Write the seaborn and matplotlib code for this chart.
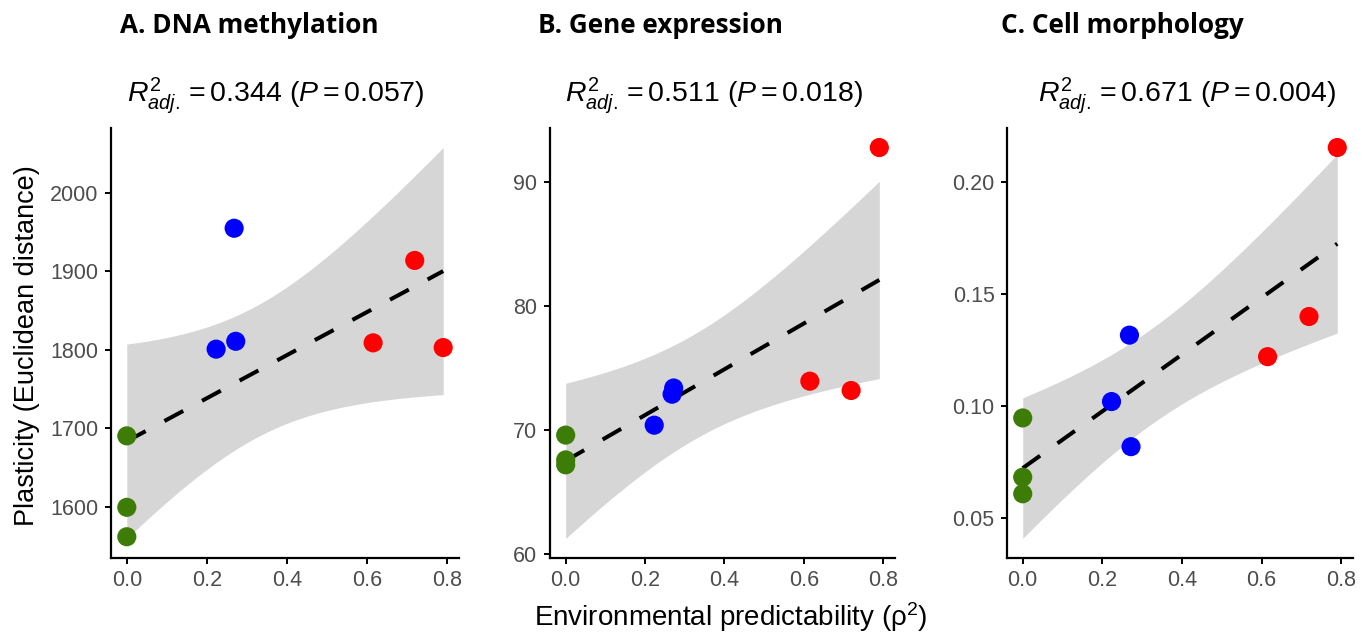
import numpy as np
import pandas as pd
import matplotlib
matplotlib.use("Agg")
import matplotlib.pyplot as plt
import seaborn as sns

# environmental predictability (rho^2) per population, same for all panels
x_vals = [0.0, 0.0, 0.0, 0.223, 0.268, 0.272, 0.615, 0.719, 0.790]
groups = ["green", "green", "green", "blue", "blue", "blue", "red", "red", "red"]

# plasticity per panel
methylation = [1690.5, 1599.5, 1562.0, 1801.0, 1955.0, 1811.0, 1809.0, 1914.0, 1803.0]
expression = [69.6, 67.6, 67.2, 70.4, 72.9, 73.4, 73.95, 73.2, 92.8]
morphology = [0.0948, 0.0684, 0.0610, 0.1021, 0.1317, 0.0820, 0.1221, 0.1400, 0.2153]

titles = ["A. DNA methylation", "B. Gene expression", "C. Cell morphology"]
stats = [r"$R^2_{adj.} = 0.344\ (P = 0.057)$",
         r"$R^2_{adj.} = 0.511\ (P = 0.018)$",
         r"$R^2_{adj.} = 0.671\ (P = 0.004)$"]
y_ticks = [[1600, 1700, 1800, 1900, 2000], [60, 70, 80, 90], [0.05, 0.10, 0.15, 0.20]]
y_ticklabels = [["1600", "1700", "1800", "1900", "2000"], ["60", "70", "80", "90"],
                ["0.05", "0.10", "0.15", "0.20"]]
x_ticks = [0.0, 0.2, 0.4, 0.6, 0.8]
x_ticklabels = ["0.0", "0.2", "0.4", "0.6", "0.8"]

palette = {"green": "#3d7c07", "blue": "#0000ff", "red": "#ff0000"}
T_CRIT = 2.3646  # t(0.975, df=7)

sns.set_theme(style="ticks")
plt.rcParams["font.family"] = ["Liberation Sans", "DejaVu Sans"]
plt.rcParams["mathtext.fontset"] = "custom"
plt.rcParams["mathtext.rm"] = "Liberation Sans"
plt.rcParams["mathtext.it"] = "Liberation Sans:italic"

W, H = 1371, 634
fig = plt.figure(figsize=(W / 100, H / 100), dpi=100)


def fx(px):
    return px / W


def fy(py):
    return 1 - py / H


# axes boxes in pixels: left, right
boxes = [(111, 459), (550, 895), (1007, 1353)]
top_px, bottom_px = 128, 558
title_x = [120, 538, 1001]
stat_x = [276, 714, 1187]

for i, yvals in enumerate([methylation, expression, morphology]):
    left, right = boxes[i]
    ax = fig.add_axes([fx(left), fy(bottom_px), fx(right - left), (bottom_px - top_px) / H])
    df = pd.DataFrame({"x": x_vals, "y": yvals, "group": groups})

    # ordinary least squares fit and 95% confidence band
    xs = np.array(x_vals)
    ys = np.array(yvals)
    slope, intercept = np.polyfit(xs, ys, 1)
    n = len(xs)
    resid = ys - (slope * xs + intercept)
    s = np.sqrt(np.sum(resid ** 2) / (n - 2))
    grid = np.linspace(xs.min(), xs.max(), 200)
    fit = slope * grid + intercept
    se = s * np.sqrt(1 / n + (grid - xs.mean()) ** 2 / np.sum((xs - xs.mean()) ** 2))
    lo, hi = fit - T_CRIT * se, fit + T_CRIT * se

    ax.fill_between(grid, lo, hi, color="#d6d6d6", linewidth=0, zorder=1)
    sns.lineplot(x=grid, y=fit, ax=ax, color="black", linewidth=2.9, zorder=2)
    ax.lines[-1].set_dashes((5.3, 5.3))
    sns.scatterplot(data=df, x="x", y="y", hue="group", palette=palette, s=190,
                    linewidth=0, legend=False, ax=ax, zorder=3)

    # ggplot-like 5% expansion
    xmin, xmax = xs.min(), xs.max()
    xr = xmax - xmin
    ax.set_xlim(xmin - 0.05 * xr, xmax + 0.05 * xr)
    ymin = min(ys.min(), lo.min())
    ymax = max(ys.max(), hi.max())
    yr = ymax - ymin
    ax.set_ylim(ymin - 0.05 * yr, ymax + 0.05 * yr)

    ax.set_xticks(x_ticks)
    ax.set_xticklabels(x_ticklabels)
    ax.set_yticks(y_ticks[i])
    ax.set_yticklabels(y_ticklabels[i])
    ax.set_xlabel("")
    ax.set_ylabel("")
    sns.despine(ax=ax)
    for sp in ["left", "bottom"]:
        ax.spines[sp].set_linewidth(1.6)
        ax.spines[sp].set_color("black")
    ax.tick_params(axis="both", labelsize=15.5, labelcolor="#4d4d4d", color="black",
                   length=4, width=1.4)
    ax.tick_params(axis="x", pad=5)
    ax.tick_params(axis="y", pad=5)

    fig.text(fx(title_x[i]), fy(33), titles[i], fontsize=18.8, fontweight="bold",
             family=["Open Sans", "DejaVu Sans"], color="black",
             ha="left", va="baseline")
    fig.text(fx(stat_x[i]), fy(102), stats[i], fontsize=20.5, color="black",
             ha="center", va="baseline")

fig.text(fx(27), fy(346), "Plasticity (Euclidean distance)", fontsize=19.5,
         color="black", rotation=90, ha="center", va="center")
fig.text(fx(731), fy(617), r"Environmental predictability $(\mathrm{\rho}^2)$",
         fontsize=20, color="black", ha="center", va="center")

fig.savefig("out.png", dpi=100)
